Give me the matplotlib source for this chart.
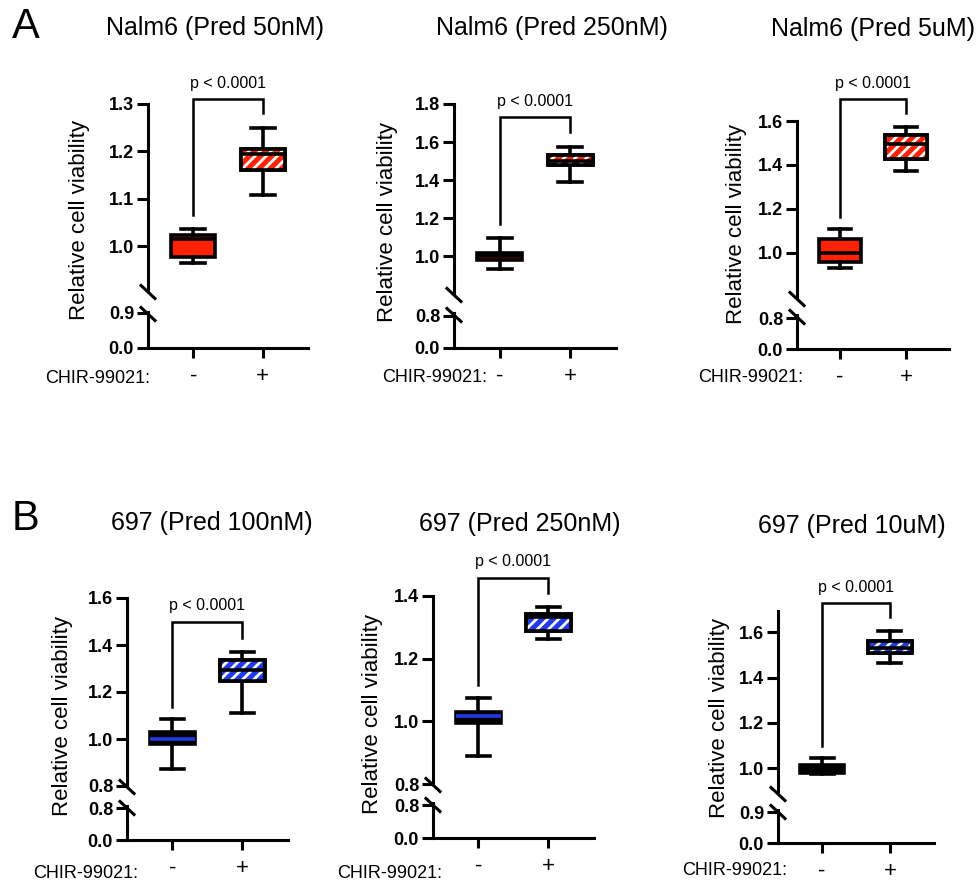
import matplotlib
matplotlib.use('Agg')
import matplotlib.pyplot as plt
from matplotlib.patches import PathPatch
from matplotlib.lines import Line2D
from matplotlib.ticker import FormatStrFormatter

plt.rcParams['font.family'] = ['Liberation Sans', 'DejaVu Sans']
plt.rcParams['hatch.linewidth'] = 2.0

W, H = 979, 888

titles = ['Nalm6 (Pred 50nM)', 'Nalm6 (Pred 250nM)', 'Nalm6 (Pred 5uM)',
          '697 (Pred 100nM)', '697 (Pred 250nM)', '697 (Pred 10uM)']
groups = ['-', '+']
treat_label = 'CHIR-99021:'
p_text = 'p < 0.0001'
ylab = 'Relative cell viability'
panel_letters = ['A', 'B']

# box stats per panel, [minus, plus]
q1 = [[0.977, 1.160], [0.980, 1.479], [0.960, 1.427],
      [0.979, 1.247], [0.994, 1.288], [0.978, 1.509]]
med = [[1.015, 1.195], [1.000, 1.500], [1.000, 1.495],
       [1.000, 1.294], [1.016, 1.333], [1.000, 1.530]]
q3 = [[1.023, 1.204], [1.016, 1.530], [1.064, 1.536],
      [1.030, 1.336], [1.029, 1.343], [1.013, 1.562]]
wlo = [[0.964, 1.107], [0.930, 1.390], [0.930, 1.373],
       [0.872, 1.110], [0.888, 1.263], [0.975, 1.465]]
whi = [[1.036, 1.250], [1.095, 1.574], [1.109, 1.573],
       [1.085, 1.372], [1.074, 1.365], [1.044, 1.606]]

# significance bracket: left foot, top, right foot
bracket = [[1.066, 1.31, 1.28], [1.17, 1.73, 1.65], [1.164, 1.70, 1.636],
           [1.136, 1.498, 1.43], [1.115, 1.458, 1.41], [1.097, 1.73, 1.668]]

upper_ticks = [[1.0, 1.1, 1.2, 1.3], [1.0, 1.2, 1.4, 1.6, 1.8], [1.0, 1.2, 1.4, 1.6],
               [0.8, 1.0, 1.2, 1.4, 1.6], [0.8, 1.0, 1.2, 1.4], [1.0, 1.2, 1.4, 1.6]]
lower_ticks = [[0.0, 0.9], [0.0, 0.8], [0.0, 0.8], [0.0, 0.8], [0.0, 0.8], [0.0, 0.9]]
upper_lim = [(0.905, 1.3), (0.8, 1.8), (0.795, 1.6), (0.8, 1.6), (0.8, 1.4), (0.89, 1.695)]
lower_lim = [(0, 0.925), (0, 0.875), (0, 0.88), (0, 0.85), (0, 0.85), (0, 0.96)]

red = '#ff2200'
blue = '#1f3be8'
minus_face = [red, red, red, 'black', 'black', 'black']
minus_med = ['black', 'black', 'black', blue, blue, 'black']
plus_face = [red, red, red, blue, blue, blue]

# layout in pixels: y-axis x, x-axis right end, upper top/bottom, lower top/bottom
layout = [(148, 308, 104, 291, 312, 348),
          (454, 616, 104, 294, 313, 348),
          (797, 949, 121, 298, 315, 349),
          (127, 288, 598, 786, 806, 840),
          (433, 594, 596, 784, 803, 838),
          (778, 934, 611, 793, 810, 843)]
title_pos = [(215, 28), (552, 28), (873, 29), (212, 523), (520, 524), (852, 526)]
ylab_pos = [(80, 220), (388, 222), (737, 224), (63, 716), (373, 714), (720, 718)]
treat_pos = [(150, 378), (487, 377), (803, 377), (138, 873), (442, 873), (787, 870)]
letter_pos = [(26, 27), (26, 519)]

LW = 2.2
BLW = 2.6

fig = plt.figure(figsize=(W / 100, H / 100), dpi=100)


def rect(x0, x1, ytop, ybot):
    return [x0 / W, 1 - ybot / H, (x1 - x0) / W, (ybot - ytop) / H]


def slash(xc, yc):
    fig.add_artist(Line2D([(xc - 7) / W, (xc + 7) / W],
                          [1 - (yc - 6.5) / H, 1 - (yc + 6.5) / H],
                          transform=fig.transFigure, color='black', lw=2.2))


for i in range(6):
    xa, xr, ut, ub, lt, lb = layout[i]
    ax = fig.add_axes(rect(xa, xr, ut, ub))
    axl = fig.add_axes(rect(xa, xr, lt, lb))

    stats = []
    for j in range(2):
        stats.append({'q1': q1[i][j], 'med': med[i][j], 'q3': q3[i][j],
                      'whislo': wlo[i][j], 'whishi': whi[i][j], 'fliers': []})
    res = ax.bxp(stats, positions=[0, 1], widths=0.64, capwidths=0.34,
                 patch_artist=True, showfliers=False,
                 boxprops=dict(edgecolor='black', linewidth=BLW),
                 whiskerprops=dict(color='black', linewidth=BLW),
                 capprops=dict(color='black', linewidth=BLW),
                 medianprops=dict(color='black', linewidth=BLW))
    res['boxes'][0].set_facecolor(minus_face[i])
    res['medians'][0].set_color(minus_med[i])
    res['boxes'][1].set_facecolor(plus_face[i])
    box = res['boxes'][1]
    hatch = PathPatch(box.get_path(), facecolor='none', edgecolor='white',
                      hatch='///', lw=0, zorder=2.1)
    ax.add_patch(hatch)
    outline = PathPatch(box.get_path(), facecolor='none', edgecolor='black',
                        lw=BLW, zorder=2.2)
    ax.add_patch(outline)
    for m in res['medians']:
        m.set_zorder(2.3)

    # significance bracket
    bl, bt, br = bracket[i]
    ax.plot([0, 0, 1, 1], [bl, bt, bt, br], color='black', lw=1.8,
            clip_on=False, solid_joinstyle='miter')
    ax.annotate(p_text, xy=(0.5, bt), xytext=(0, 11.5), textcoords='offset points',
                ha='center', va='center', fontsize=11.5, annotation_clip=False)

    for a in (ax, axl):
        a.set_xlim(-0.65, 1.65)
        a.spines['top'].set_visible(False)
        a.spines['right'].set_visible(False)
        a.spines['left'].set_linewidth(LW)
        a.tick_params(axis='y', direction='out', length=8, width=LW, pad=2,
                      labelsize=13)
        a.yaxis.set_major_formatter(FormatStrFormatter('%.1f'))
        a.set_facecolor('none')

    ax.spines['bottom'].set_visible(False)
    ax.set_xticks([])
    ax.set_ylim(*upper_lim[i])
    ax.set_yticks(upper_ticks[i])

    axl.spines['bottom'].set_linewidth(LW)
    axl.set_ylim(*lower_lim[i])
    axl.set_yticks(lower_ticks[i])
    axl.set_xticks([0, 1])
    axl.set_xticklabels(groups, fontsize=16)
    axl.tick_params(axis='x', direction='out', length=7, width=LW, pad=6)

    for a in (ax, axl):
        for lab in a.get_yticklabels():
            lab.set_fontweight('bold')

    slash(xa, ub + 1)
    slash(xa, lt + 2)

    tx, ty = title_pos[i]
    fig.text(tx / W, 1 - ty / H, titles[i], ha='center', va='center', fontsize=18)
    yx, yy = ylab_pos[i]
    fig.text(yx / W, 1 - yy / H, ylab, ha='center', va='center',
             rotation=90, fontsize=16)
    cx, cy = treat_pos[i]
    fig.text(cx / W, 1 - cy / H, treat_label, ha='right', va='center', fontsize=13)

for k in range(2):
    lx, ly = letter_pos[k]
    fig.text(lx / W, 1 - ly / H, panel_letters[k], ha='center', va='center', fontsize=30)

fig.savefig('out.png', dpi=100)
